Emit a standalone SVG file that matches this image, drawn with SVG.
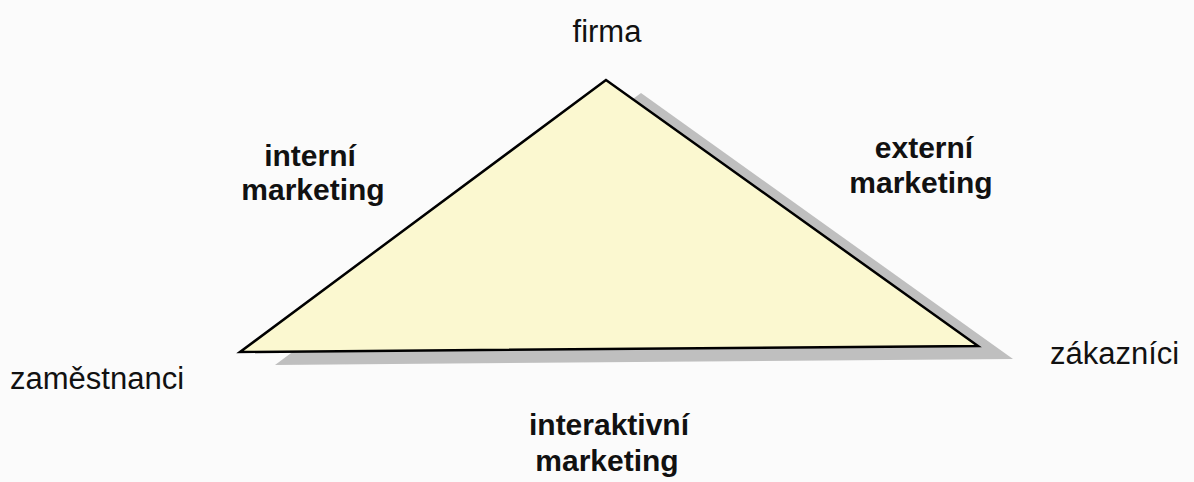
<svg xmlns="http://www.w3.org/2000/svg" width="1194" height="482" viewBox="0 0 1194 482">
  <style>
    .n { font-family: "Liberation Sans", Arial, sans-serif; font-size: 31px; fill: #111; }
    .b { font-family: "Liberation Sans", Arial, sans-serif; font-size: 30px; font-weight: bold; fill: #111; text-anchor: middle; }
  </style>
  <rect x="0" y="0" width="1194" height="482" fill="#FBFBFB"/>
  <g id="triangle">
    <polygon id="shadow" points="641,93 275,365 1013,359" fill="#BFBFBF"/>
    <polygon id="shape" points="606,80 240,352 978,346" fill="#FBF8D0" stroke="#000" stroke-width="2.5" stroke-linejoin="miter"/>
  </g>
  <g id="connectors"/>
  <g id="firma"><text class="n" x="607" y="42" text-anchor="middle">firma</text></g>
  <g id="zamestnanci"><text class="n" x="10" y="389">zaměstnanci</text></g>
  <g id="zakaznici"><text class="n" x="1050" y="364">zákazníci</text></g>
  <g id="interni"><text class="b" x="310" y="166">interní</text><text class="b" x="313" y="200">marketing</text></g>
  <g id="externi"><text class="b" x="924" y="158">externí</text><text class="b" x="921" y="193">marketing</text></g>
  <g id="interaktivni"><text class="b" x="609" y="435">interaktivní</text><text class="b" x="607" y="471">marketing</text></g>
</svg>
